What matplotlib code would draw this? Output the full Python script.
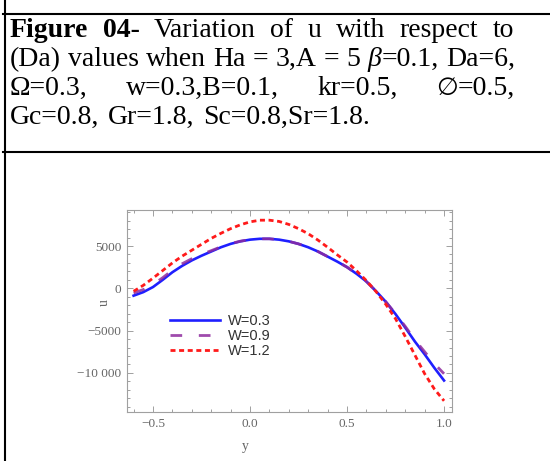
import matplotlib
matplotlib.use('Agg')
import matplotlib.pyplot as plt
from matplotlib.lines import Line2D
from matplotlib.ticker import MultipleLocator, FuncFormatter

# ---------------- data ----------------
y_vals = [-0.60, -0.55, -0.50, -0.45, -0.40, -0.35, -0.30, -0.25, -0.20, -0.15,
          -0.10, -0.05, 0.00, 0.05, 0.10, 0.15, 0.20, 0.25, 0.30, 0.35,
          0.40, 0.45, 0.50, 0.55, 0.60, 0.65, 0.70, 0.75, 0.80, 0.85,
          0.90, 0.95, 1.00]
u_w03 = [-870, -450, 150, 1000, 1900, 2650, 3300, 3850, 4350, 4850,
         5250, 5550, 5750, 5850, 5850, 5750, 5550, 5250, 4850, 4350,
         3750, 3150, 2500, 1700, 800, -350, -1600, -3050, -4650, -6300,
         -7800, -9400, -10900]
u_w09 = [-550, -150, 450, 1250, 2150, 2900, 3500, 4000, 4450, 4900,
         5280, 5570, 5760, 5850, 5850, 5750, 5550, 5250, 4850, 4350,
         3750, 3150, 2500, 1700, 800, -350, -1600, -3000, -4500, -6100,
         -7500, -8900, -10100]
u_w12 = [-350, 350, 1200, 2100, 3000, 3800, 4500, 5200, 5900, 6500,
         7050, 7500, 7850, 8050, 8050, 7900, 7550, 7050, 6450, 5700,
         4850, 3950, 3100, 2050, 900, -400, -1900, -3600, -5700, -7900,
         -10100, -11900, -13300]
series_labels = ['W=0.3', 'W=0.9', 'W=1.2']
x_ticks = [-0.5, 0.0, 0.5, 1.0]
y_ticks = [-10000, -5000, 0, 5000]

caption_line1 = [[("Figure", 'bold')], [("04-", 'bold')], [("Variation", None)], [("of", None)],
                 [("u", None)], [("with", None)], [("respect", None)], [("to", None)]]
caption_line2 = [[("(Da)", None)], [("values", None)], [("when", None)], [("Ha", None)], [("=", None)],
                 [("3,A", None)], [("=", None)], [("5", None)], [("β", 'italic'), ("=0.1,", None)],
                 [("Da=6,", None)]]
caption_line3 = [[("Ω=0.3,", None)], [("w=0.3,B=0.1,", None)], [("kr=0.5,", None)],
                 [("∅", 'symbol'), ("=0.5,", None)]]
caption_line4 = [[("Gc=0.8,", None)], [("Gr=1.8,", None)], [("Sc=0.8,Sr=1.8.", None)]]

# ---------------- figure ----------------
W, H = 550, 461
fig = plt.figure(figsize=(W / 100, H / 100), dpi=100)
SERIF = ['Liberation Serif', 'DejaVu Serif', 'DejaVu Sans']

def fx(px):
    return px / W

def fy(py):
    return 1 - py / H

# table border lines
fig.add_artist(Line2D([fx(4.5), fx(4.5)], [0, 1], transform=fig.transFigure, color='black', lw=1.5))
fig.add_artist(Line2D([fx(3), 1], [fy(14), fy(14)], transform=fig.transFigure, color='black', lw=1.5))
fig.add_artist(Line2D([fx(3), 1], [fy(152), fy(152)], transform=fig.transFigure, color='black', lw=1.5))

renderer = fig.canvas.get_renderer()
CAP_FS = 20

def make_text(s, style):
    kw = dict(fontsize=CAP_FS, family=SERIF, va='baseline', ha='left', transform=fig.transFigure)
    if style == 'bold':
        kw['fontweight'] = 'bold'
    elif style == 'italic':
        kw['fontstyle'] = 'italic'
    elif style == 'symbol':
        kw['family'] = ['DejaVu Serif', 'DejaVu Sans']
        kw['fontsize'] = CAP_FS * 0.9
    return fig.text(0, 0, s, **kw)

def justify(tokens, x0, x1, ybase):
    groups = []
    total = 0
    for tok in tokens:
        parts = []
        w = 0
        for s, style in tok:
            t = make_text(s, style)
            bw = t.get_window_extent(renderer).width
            parts.append((t, bw))
            w += bw
        groups.append((parts, w))
        total += w
    gap = (x1 - x0 - total) / (len(groups) - 1)
    x = x0
    for parts, w in groups:
        for t, bw in parts:
            t.set_position((fx(x), fy(ybase)))
            x += bw
        x += gap

justify(caption_line1, 10, 514, 37)
justify(caption_line2, 10, 515, 66)
justify(caption_line3, 10, 515, 95)
justify(caption_line4, 10, 370, 124)

# ---------------- axes ----------------
ax = fig.add_axes([fx(127), 1 - 412 / H, (452 - 127) / W, (412 - 210) / H])
ax.plot(y_vals, u_w03, color='#1f1fff', lw=1.9, label=series_labels[0], zorder=3)
ax.plot(y_vals, u_w09, color='#8e2b9e', lw=2.0, dashes=(4.2, 6), label=series_labels[1],
        zorder=3.5, alpha=0.85)
ax.plot(y_vals, u_w12, color='#ff1a1a', lw=2.0, dashes=(1.8, 1.3), label=series_labels[2], zorder=4)

ax.set_xlim(-0.634, 1.041)
ax.set_ylim(-14620, 9255)
ax.set_xticks(x_ticks)
ax.set_yticks(y_ticks)
ax.xaxis.set_minor_locator(MultipleLocator(0.1))
ax.yaxis.set_minor_locator(MultipleLocator(1000))

def xfmt(v, pos):
    s = f"{v:.1f}"
    return s.replace('-', '\u2212')

def yfmt(v, pos):
    v = int(round(v))
    s = f"{abs(v)}"
    if abs(v) >= 10000:
        s = f"{abs(v):,}".replace(',', ' ')
    return ('\u2212' if v < 0 else '') + s

ax.xaxis.set_major_formatter(FuncFormatter(xfmt))
ax.yaxis.set_major_formatter(FuncFormatter(yfmt))
for sp in ax.spines.values():
    sp.set_color('#a0a0a0')
    sp.set_linewidth(0.8)
ax.tick_params(which='both', direction='in', top=True, right=True, color='#a0a0a0', width=0.7)
ax.tick_params(which='major', length=4, labelsize=9.5, labelcolor='#666666', pad=4)
ax.tick_params(which='minor', length=2)
for lab in ax.get_xticklabels() + ax.get_yticklabels():
    lab.set_family(SERIF)

ax.set_xlabel('y', family=SERIF, fontsize=10, color='#666666')
ax.set_ylabel('u', family=SERIF, fontsize=10, color='#666666')
ax.xaxis.set_label_coords((245 - 127) / 325, (412 - 440) / 202)
ax.yaxis.set_label_coords((111 - 127) / 325, (412 - 303) / 202)

handles, labels = ax.get_legend_handles_labels()
leg = ax.legend(handles, labels,
                frameon=False, loc='center left', bbox_to_anchor=(0.132, 0.376),
                borderpad=0, borderaxespad=0, handlelength=3.45, handletextpad=0.55,
                labelspacing=0.05, prop={'family': ['Liberation Sans'], 'size': 10.5})
for t in leg.get_texts():
    t.set_color('#333333')

fig.savefig('out.png', dpi=100, facecolor='white')
